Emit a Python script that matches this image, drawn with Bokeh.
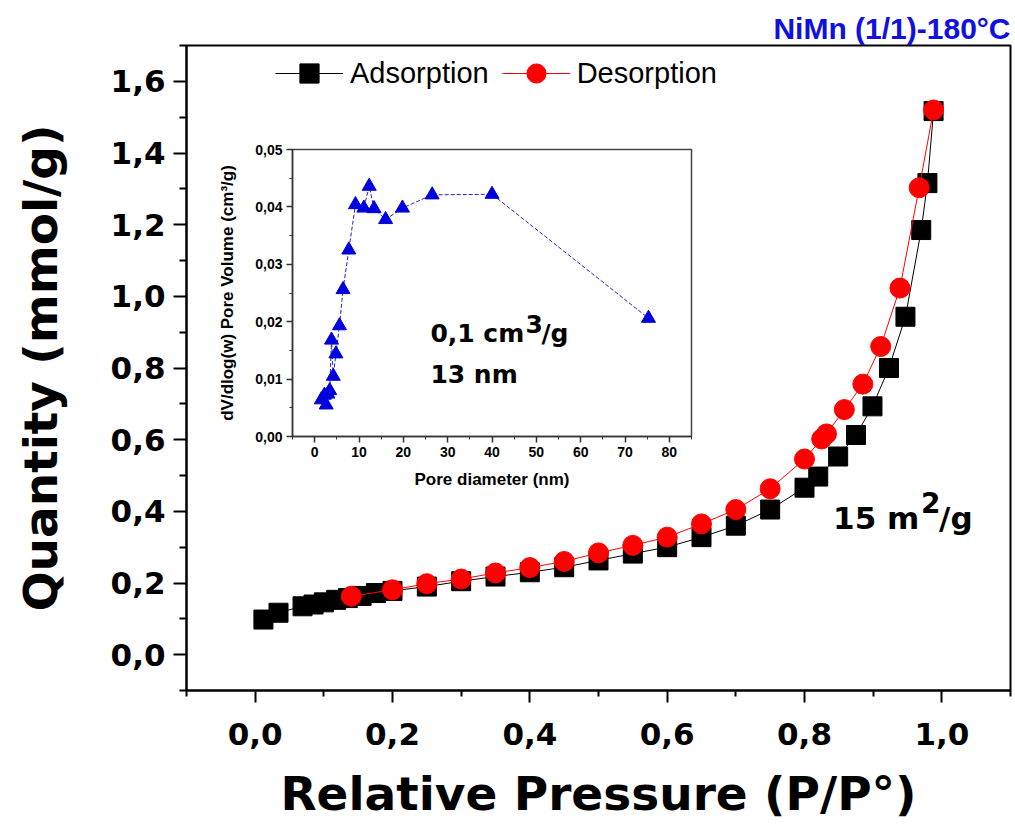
from bokeh.plotting import figure
from bokeh.models import (Range1d, FixedTicker, CustomJSTickFormatter, Label,
                          Legend, LegendItem)
from bokeh.layouts import column
from bokeh.embed import file_html
from bokeh.resources import INLINE

# ---------------- data ----------------
ads_p = [0.012, 0.034, 0.069, 0.085, 0.100, 0.118, 0.135, 0.155, 0.176, 0.200,
         0.250, 0.300, 0.350, 0.400, 0.450, 0.500, 0.550, 0.600, 0.650, 0.700,
         0.750, 0.800, 0.820, 0.849, 0.875, 0.899, 0.923, 0.947, 0.970, 0.979, 0.988]
ads_q = [0.098, 0.117, 0.135, 0.140, 0.146, 0.153, 0.158, 0.164, 0.172, 0.178,
         0.190, 0.205, 0.218, 0.230, 0.244, 0.263, 0.282, 0.300, 0.328, 0.360,
         0.405, 0.466, 0.497, 0.553, 0.613, 0.693, 0.800, 0.943, 1.185, 1.316, 1.517]

des_p = [0.988, 0.967, 0.939, 0.911, 0.885, 0.858, 0.832, 0.825, 0.800, 0.750,
         0.700, 0.650, 0.600, 0.550, 0.500, 0.450, 0.400, 0.350, 0.300, 0.250,
         0.200, 0.140]
des_q = [1.520, 1.303, 1.023, 0.860, 0.755, 0.684, 0.616, 0.602, 0.546, 0.463,
         0.405, 0.365, 0.328, 0.305, 0.284, 0.260, 0.243, 0.228, 0.211, 0.198,
         0.181, 0.163]

pore_d = [1.5, 2.2, 2.6, 3.0, 3.4, 3.8, 4.2, 4.8, 5.6, 6.4, 7.7, 9.2, 11.1, 12.3,
          13.4, 16.0, 19.8, 26.5, 40.0, 75.3]
pore_v = [0.0064, 0.0072, 0.0055, 0.0074, 0.0080, 0.0168, 0.0105, 0.0144, 0.0193,
          0.0256, 0.0325, 0.0404, 0.0398, 0.0436, 0.0397, 0.0378, 0.0398, 0.0421,
          0.0422, 0.0206]

x_ticks = [0.0, 0.2, 0.4, 0.6, 0.8, 1.0]
x_minor = [-0.1, 0.1, 0.3, 0.5, 0.7, 0.9, 1.1]
y_ticks = [0.0, 0.2, 0.4, 0.6, 0.8, 1.0, 1.2, 1.4, 1.6]
y_minor = [-0.1, 0.1, 0.3, 0.5, 0.7, 0.9, 1.1, 1.3, 1.5, 1.7]
ix_ticks = [0, 10, 20, 30, 40, 50, 60, 70, 80]
ix_minor = [-5, 5, 15, 25, 35, 45, 55, 65, 75, 85]
iy_ticks = [0.0, 0.01, 0.02, 0.03, 0.04, 0.05]
iy_minor = [0.005, 0.015, 0.025, 0.035, 0.045]

title_text = "NiMn (1/1)-180°C"
x_label = "Relative Pressure (P/P°)"
y_label = "Quantity (mmol/g)"
ix_label = "Pore diameter (nm)"
iy_label = "dV/dlog(w) Pore Volume (cm³/g)"

BOLD = "DejaVu Sans"

# ---------------- main figure ----------------
p = figure(width=1013, height=827, x_range=Range1d(-0.1, 1.1), y_range=Range1d(-0.1, 1.7),
           output_backend="svg", toolbar_location=None,
           min_border_left=186, min_border_right=3, min_border_top=45, min_border_bottom=137)
try:
    p.frame_align = False
except Exception:
    pass
p.xgrid.visible = False
p.ygrid.visible = False
p.outline_line_color = "black"
p.outline_line_width = 2
p.outline_line_alpha = 1

p.title.text = title_text
p.title.align = "right"
p.title.text_font = "Liberation Sans"
p.title.text_font_style = "bold"
p.title.text_font_size = "30px"
p.title.text_color = "#1010e0"
p.title.standoff = 1

p.xaxis.ticker = FixedTicker(ticks=x_ticks, minor_ticks=x_minor)
p.yaxis.ticker = FixedTicker(ticks=y_ticks, minor_ticks=y_minor)
fmt1 = CustomJSTickFormatter(code="return tick.toFixed(1).replace('.', ',');")
p.xaxis.formatter = fmt1
p.yaxis.formatter = fmt1
p.xaxis.axis_label = x_label
p.yaxis.axis_label = y_label
for ax in (p.xaxis[0], p.yaxis[0]):
    ax.axis_line_width = 2
    ax.major_tick_line_width = 2
    ax.minor_tick_line_width = 2
    ax.major_tick_in = 0
    ax.minor_tick_in = 0
    ax.major_label_text_font = BOLD
    ax.major_label_text_font_style = "bold"
    ax.major_label_text_font_size = "31px"
    ax.major_label_text_color = "black"
    ax.axis_label_text_font = BOLD
    ax.axis_label_text_font_style = "bold"
    ax.axis_label_text_font_size = "47px"
    ax.axis_label_text_color = "black"
p.xaxis.major_tick_out = 12
p.xaxis.minor_tick_out = 6
p.yaxis.major_tick_out = 13
p.yaxis.minor_tick_out = 7
p.xaxis.major_label_standoff = 20
p.yaxis.major_label_standoff = 8
p.xaxis.axis_label_standoff = 18
p.yaxis.axis_label_standoff = 40

l1 = p.line(ads_p, ads_q, line_color="black", line_width=1)
s1 = p.scatter(ads_p, ads_q, marker="square", size=19, fill_color="black", line_color="black")
l2 = p.line(des_p, des_q, line_color="red", line_width=1)
s2 = p.scatter(des_p, des_q, marker="circle", size=20, fill_color="red", line_color="red")

legend = Legend(items=[LegendItem(label="Adsorption", renderers=[l1, s1]),
                       LegendItem(label="Desorption", renderers=[l2, s2])],
                orientation="horizontal", location=(89, 593),
                glyph_width=68, glyph_height=48, label_standoff=7, spacing=13,
                padding=0, margin=0, border_line_color=None, background_fill_alpha=0,
                label_text_font="Liberation Sans", label_text_font_size="29px",
                label_text_color="black")
p.add_layout(legend)

bx, by = 0.8416, 0.382
for txt, dx, dy, fs in (("15 m", 0, 0, "31px"), ("2", 88, 15, "28px"), ("/g", 106, 0, "31px")):
    p.add_layout(Label(x=bx, y=by, x_offset=dx, y_offset=dy, text=txt,
                       text_align="left", text_baseline="alphabetic",
                       text_font=BOLD, text_font_style="bold",
                       text_font_size=fs, text_color="black"))

# ---------------- inset figure ----------------
ins = figure(width=489, height=359, x_range=Range1d(-5, 85), y_range=Range1d(0, 0.05),
             output_backend="svg", toolbar_location=None,
             min_border_left=80, min_border_right=10, min_border_top=12, min_border_bottom=60,
             background_fill_alpha=0, border_fill_alpha=0)
try:
    ins.frame_align = False
except Exception:
    pass
ins.xgrid.visible = False
ins.ygrid.visible = False
ins.outline_line_color = "#444444"
ins.outline_line_width = 1.5
ins.outline_line_alpha = 1
ins.xaxis.ticker = FixedTicker(ticks=ix_ticks, minor_ticks=ix_minor)
ins.yaxis.ticker = FixedTicker(ticks=iy_ticks, minor_ticks=iy_minor)
ins.xaxis.formatter = CustomJSTickFormatter(code="return tick.toFixed(0);")
ins.yaxis.formatter = CustomJSTickFormatter(code="return tick.toFixed(2).replace('.', ',');")
ins.xaxis.axis_label = ix_label
ins.yaxis.axis_label = iy_label
for ax in (ins.xaxis[0], ins.yaxis[0]):
    ax.axis_line_width = 1.5
    ax.axis_line_color = "#333333"
    ax.major_tick_line_color = "#333333"
    ax.minor_tick_line_color = "#333333"
    ax.major_tick_line_width = 1.5
    ax.minor_tick_line_width = 1
    ax.major_tick_in = 0
    ax.minor_tick_in = 0
    ax.major_tick_out = 6
    ax.minor_tick_out = 3
    ax.major_label_text_font = "Liberation Sans"
    ax.major_label_text_font_style = "bold"
    ax.major_label_text_font_size = "14px"
    ax.major_label_text_color = "black"
    ax.major_label_standoff = 4
    ax.axis_label_text_font = "Liberation Sans"
    ax.axis_label_text_font_style = "bold"
    ax.axis_label_text_font_size = "17px"
    ax.axis_label_text_color = "black"
ins.xaxis.axis_label_standoff = 10
ins.yaxis.axis_label_standoff = 15

ins.line(pore_d, pore_v, line_color="#2222cc", line_width=1, line_dash="4 2")
ins.scatter(pore_d, pore_v, marker="triangle", size=14, fill_color="#0000dd", line_color="#0000dd")

ix, iy = 26.1, 0.0180
for txt, dx, dy in (("0,1 cm", 0, 0), ("3", 95, 9), ("/g", 111, 0)):
    ins.add_layout(Label(x=ix, y=iy, x_offset=dx, y_offset=dy, text=txt,
                         text_align="left", text_baseline="alphabetic",
                         text_font=BOLD, text_font_style="bold",
                         text_font_size="25px", text_color="black"))
ins.add_layout(Label(x=ix, y=0.01075, text="13 nm", text_align="left",
                     text_baseline="alphabetic", text_font=BOLD, text_font_style="bold",
                     text_font_size="25px", text_color="black"))

ins.styles = {"position": "absolute", "left": "212px", "top": "137px"}
layout = column(p, ins)
layout.styles = {"position": "relative"}

open("out.html", "w").write(file_html(layout, INLINE))
